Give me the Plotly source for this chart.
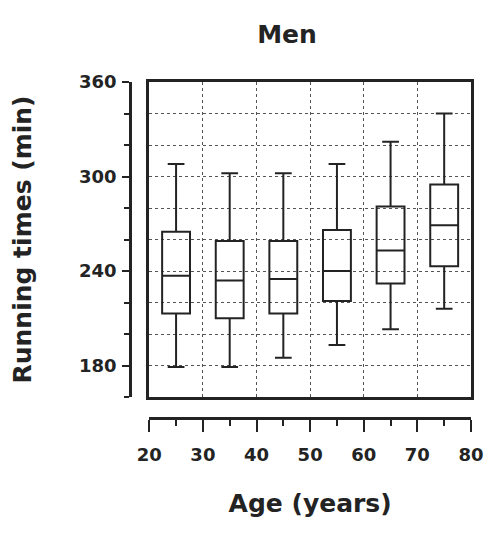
import plotly.graph_objects as go

# Data
age_groups = [25, 35, 45, 55, 65, 75]
lower_whisker = [179, 179, 185, 193, 203, 216]
q1 = [213, 210, 213, 221, 232, 243]
median = [237, 234, 235, 240, 253, 269]
q3 = [265, 259, 259, 266, 281, 295]
upper_whisker = [308, 302, 302, 308, 322, 340]

x_ticks = [20, 30, 40, 50, 60, 70, 80]
y_ticks = [180, 240, 300, 360]

INK = "#232323"
FONT = "DejaVu Sans"

W, H = 488, 526  # page body has an 8px margin

fig = go.Figure()
fig.add_trace(go.Box(
    x=age_groups, q1=q1, median=median, q3=q3,
    lowerfence=lower_whisker, upperfence=upper_whisker,
    width=5.2, whiskerwidth=0.6, boxpoints=False,
    line=dict(color=INK, width=2), fillcolor="rgba(255,255,255,0)",
    showlegend=False, hoverinfo="skip",
    xaxis="x", yaxis="y",
))
# empty trace so the detached (offset) axes are drawn
fig.add_trace(go.Scatter(x=[None], y=[None], xaxis="x2", yaxis="y2",
                         showlegend=False, hoverinfo="skip"))

grid_style = dict(showgrid=True, gridcolor="#555", gridwidth=1, griddash="dot")

fig.update_layout(
    width=W, height=H,
    margin=dict(l=117, r=17, t=74, b=116),
    paper_bgcolor="white", plot_bgcolor="white",
    font=dict(family=FONT, color=INK, size=18, weight="bold"),
    title=dict(text="Men", x=279 / W, xref="container", xanchor="center",
               y=1 - 26 / H, yref="container", yanchor="middle",
               font=dict(size=25, family=FONT, color=INK, weight="bold")),
    xaxis=dict(domain=[20 / 354, 1], range=[20, 80], dtick=10, tick0=0,
               showticklabels=False, ticks="", zeroline=False,
               showline=True, mirror=True, linecolor=INK, linewidth=2.5,
               anchor="y", **grid_style),
    yaxis=dict(domain=[21 / 336, 1], range=[160, 360], dtick=20, tick0=0,
               showticklabels=False, ticks="", zeroline=False,
               showline=True, mirror=True, linecolor=INK, linewidth=2.5,
               anchor="x", **grid_style),
    xaxis2=dict(domain=[20 / 354, 1], range=[20, 80], overlaying="x",
                anchor="free", position=0, side="bottom",
                tickvals=x_ticks, ticktext=[str(v) for v in x_ticks],
                ticks="outside", ticklen=12, tickwidth=2, tickcolor=INK,
                minor=dict(dtick=5, tick0=0, ticks="outside", ticklen=6,
                           tickwidth=2, tickcolor=INK, showgrid=False),
                showline=True, linecolor=INK, linewidth=2.5,
                showgrid=False, zeroline=False,
                ticklabelstandoff=8,
                tickfont=dict(size=18, family=FONT, color=INK, weight="bold"),
                title=dict(text="Age (years)", standoff=30,
                           font=dict(size=25, family=FONT, color=INK, weight="bold"))),
    yaxis2=dict(domain=[21 / 336, 1], range=[160, 360], overlaying="y",
                anchor="free", position=0, side="left",
                tickvals=y_ticks, ticktext=[str(v) for v in y_ticks],
                ticks="outside", ticklen=7, tickwidth=2, tickcolor=INK,
                minor=dict(dtick=20, tick0=0, ticks="outside", ticklen=5,
                           tickwidth=2, tickcolor=INK, showgrid=False),
                showline=True, linecolor=INK, linewidth=2.5,
                showgrid=False, zeroline=False,
                ticklabelstandoff=2,
                tickfont=dict(size=18, family=FONT, color=INK, weight="bold"),
                title=dict(text="Running times (min)", standoff=42,
                           font=dict(size=25, family=FONT, color=INK, weight="bold"))),
)

fig.write_html("out.html")
